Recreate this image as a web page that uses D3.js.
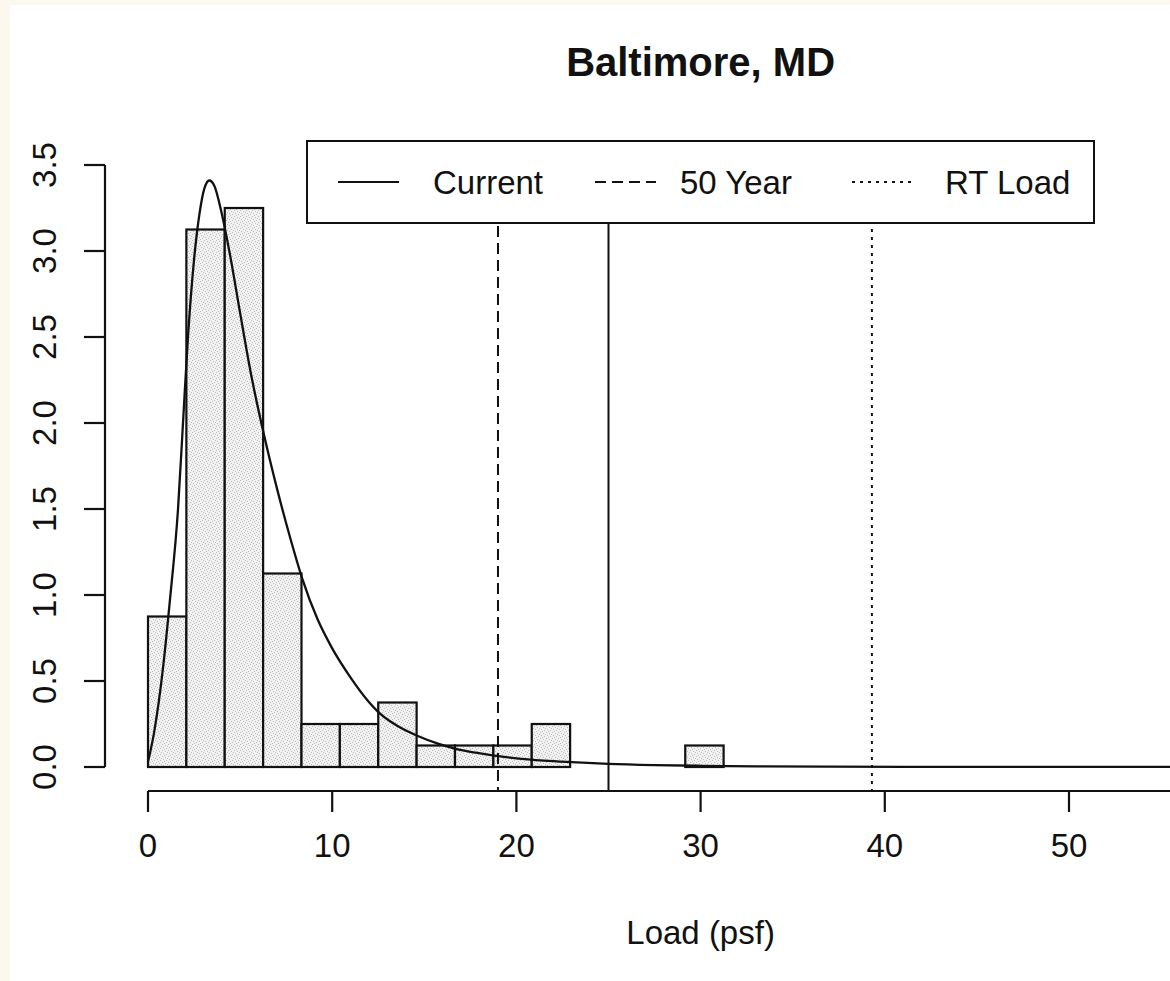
<!DOCTYPE html>
<html>
<head>
<meta charset="utf-8">
<script src="https://cdn.jsdelivr.net/npm/d3@7"></script>
<style>
  html, body { margin: 0; padding: 0; background: #fcf7ef; }
  svg { display: block; }
  text { font-family: "Liberation Sans", Arial, Helvetica, sans-serif; fill: #111; }
</style>
</head>
<body>
<svg id="chart" width="1170" height="981"></svg>
<script>
// ---------- data ----------
const title = "Baltimore, MD";
const xLabel = "Load (psf)";
const binWidth = 2.0833;
const binStarts = [0, 1, 2, 3, 4, 5, 6, 7, 8, 9, 10, 11, 12, 13, 14]; // bin index
const binHeights = [0.875, 3.125, 3.25, 1.125, 0.25, 0.25, 0.375, 0.125, 0.125, 0.125, 0.25, 0, 0, 0, 0.125];

const curveX = [0, 0.33, 0.82, 1.19, 1.63, 1.9, 2.17, 2.5, 2.8, 3.05, 3.33, 3.6, 4.0, 4.5, 5.0, 5.6, 6.3, 7.0, 7.7, 8.36, 9.2, 10.0, 11.0, 11.9, 12.6, 13.6, 14.65, 15.7, 16.7, 17.8, 18.8, 20.0, 21.5, 23.0, 25.0, 27.5, 30.0, 33.0, 37.0, 42.0, 50.0, 62.4];
const curveY = [0.03, 0.2, 0.58, 0.97, 1.5, 2.0, 2.5, 2.95, 3.22, 3.36, 3.41, 3.38, 3.22, 2.95, 2.64, 2.28, 1.93, 1.62, 1.34, 1.1, 0.86, 0.69, 0.52, 0.39, 0.31, 0.235, 0.18, 0.137, 0.106, 0.083, 0.066, 0.05, 0.037, 0.028, 0.018, 0.011, 0.007, 0.004, 0.002, 0.001, 0.0004, 0.0001];

const refNames = ["Current", "50 Year", "RT Load"];
const refValues = [25.0, 19.0, 39.3];
const refDash = ["none", "11,6", "3,5"];

const xTicks = [0, 10, 20, 30, 40, 50, 60];
const xTickLabels = ["0", "10", "20", "30", "40", "50"];
const yTicks = [0, 0.5, 1.0, 1.5, 2.0, 2.5, 3.0, 3.5];

// ---------- layout ----------
const svg = d3.select("#chart");
const x = d3.scaleLinear().domain([0, 60]).range([148, 148 + 60 * 18.42]);
const y = d3.scaleLinear().domain([0, 3.5]).range([767, 165]);

const plotLeft = x(-2.4), plotRight = x(62.4), plotTop = y(3.64), plotBottom = y(-0.14);

// white page with beige margins (left/top)
svg.append("rect").attr("x", 10).attr("y", 5).attr("width", 1160).attr("height", 976).attr("fill", "#ffffff");

// stipple pattern for bars
const defs = svg.append("defs");
const pat = defs.append("pattern").attr("id", "stip").attr("patternUnits", "userSpaceOnUse")
  .attr("width", 6).attr("height", 6);
pat.append("rect").attr("width", 6).attr("height", 6).attr("fill", "#f1f1f1");
[[0,0],[3,1],[1,3],[4,4],[5,2],[2,5]].forEach(([a,b]) =>
  pat.append("rect").attr("x", a).attr("y", b).attr("width", 1).attr("height", 1).attr("fill", "#bcbcbc"));

defs.append("clipPath").attr("id", "plotclip").append("rect")
  .attr("x", plotLeft).attr("y", plotTop).attr("width", plotRight - plotLeft).attr("height", plotBottom - plotTop);

// ---------- histogram ----------
svg.append("g").selectAll("rect").data(binStarts.map((b, i) => ({ x0: b * binWidth, x1: (b + 1) * binWidth, h: binHeights[i] })))
  .join("rect")
  .attr("x", d => x(d.x0))
  .attr("width", d => x(d.x1) - x(d.x0))
  .attr("y", d => y(d.h))
  .attr("height", d => y(0) - y(d.h))
  .attr("fill", "url(#stip)")
  .attr("stroke", "#111")
  .attr("stroke-width", 2.2);

// ---------- density curve ----------
const plotG = svg.append("g").attr("clip-path", "url(#plotclip)");
plotG.append("path")
  .datum(curveX.map((v, i) => [v, curveY[i]]))
  .attr("d", d3.line().x(d => x(d[0])).y(d => y(d[1])).curve(d3.curveMonotoneX))
  .attr("fill", "none").attr("stroke", "#111").attr("stroke-width", 2.3);

// ---------- reference lines ----------
plotG.selectAll("line.ref").data(refValues).join("line")
  .attr("class", "ref")
  .attr("x1", d => x(d)).attr("x2", d => x(d))
  .attr("y1", plotTop).attr("y2", plotBottom)
  .attr("stroke", "#111").attr("stroke-width", 2)
  .attr("stroke-dasharray", (d, i) => refDash[i]);

// ---------- axes ----------
const axisG = svg.append("g");
// y axis
axisG.append("line").attr("x1", 105).attr("x2", 105).attr("y1", y(0)).attr("y2", y(3.5))
  .attr("stroke", "#111").attr("stroke-width", 2.2);
axisG.selectAll("line.yt").data(yTicks).join("line").attr("class", "yt")
  .attr("x1", 84).attr("x2", 105).attr("y1", d => y(d)).attr("y2", d => y(d))
  .attr("stroke", "#111").attr("stroke-width", 2.2);
axisG.selectAll("text.yl").data(yTicks).join("text").attr("class", "yl")
  .attr("transform", d => `translate(56,${y(d)}) rotate(-90)`)
  .attr("text-anchor", "middle").attr("font-size", 33)
  .text(d => d3.format(".1f")(d));

// x axis
axisG.append("line").attr("x1", x(0)).attr("x2", x(60)).attr("y1", 791).attr("y2", 791)
  .attr("stroke", "#111").attr("stroke-width", 2.2);
axisG.selectAll("line.xt").data(xTicks).join("line").attr("class", "xt")
  .attr("x1", d => x(d)).attr("x2", d => x(d)).attr("y1", 791).attr("y2", 812)
  .attr("stroke", "#111").attr("stroke-width", 2.2);
axisG.selectAll("text.xl").data(xTickLabels).join("text").attr("class", "xl")
  .attr("x", d => x(+d)).attr("y", 857)
  .attr("text-anchor", "middle").attr("font-size", 33)
  .text(d => d);

// labels
svg.append("text").attr("x", x(30)).attr("y", 944).attr("text-anchor", "middle")
  .attr("font-size", 33).text(xLabel);
svg.append("text").attr("x", x(30)).attr("y", 76).attr("text-anchor", "middle")
  .attr("font-size", 40).attr("font-weight", "bold").text(title);

// ---------- legend ----------
const lg = svg.append("g");
lg.append("rect").attr("x", 307).attr("y", 141).attr("width", 787).attr("height", 82)
  .attr("fill", "#fff").attr("stroke", "#111").attr("stroke-width", 2);
const legendLineX = [338, 595, 852];
const legendTextX = [433, 680, 945];
refNames.forEach((n, i) => {
  lg.append("line").attr("x1", legendLineX[i]).attr("x2", legendLineX[i] + 61)
    .attr("y1", 182).attr("y2", 182)
    .attr("stroke", "#111").attr("stroke-width", 2).attr("stroke-dasharray", refDash[i]);
  lg.append("text").attr("x", legendTextX[i]).attr("y", 194).attr("font-size", 33).text(n);
});
</script>
</body>
</html>
